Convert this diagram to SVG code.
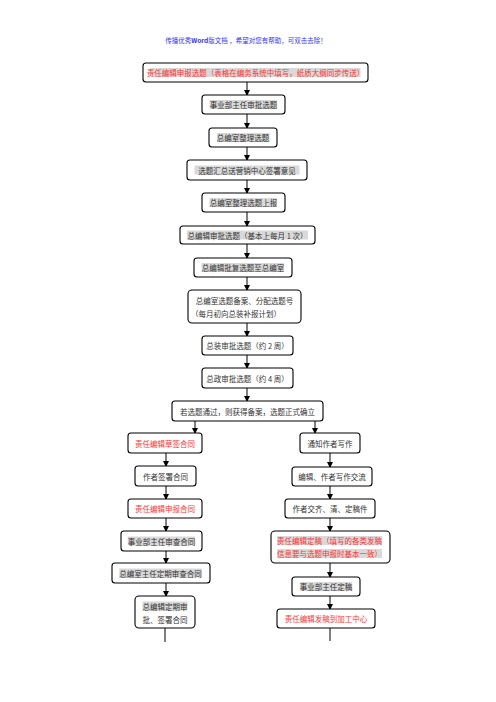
<svg xmlns="http://www.w3.org/2000/svg" width="496" height="702" viewBox="0 0 496 702">
<defs>
<marker id="ah" markerWidth="6" markerHeight="6" refX="5" refY="3" orient="auto" markerUnits="userSpaceOnUse">
<path d="M0,0 L6,3 L0,6 Z" fill="#000"/>
</marker>
<style>
.b{fill:#fff;stroke:#000;stroke-width:1.1}
.t{font-family:"Noto Sans CJK SC","Liberation Serif",serif;font-size:7.5px;fill:#333;text-anchor:middle;dominant-baseline:central}
.r{fill:#ff3333}
.h{fill:#d9d9d9}
.c{stroke:#000;stroke-width:1;fill:none}
.a{marker-end:url(#ah)}
</style>
</defs>
<rect width="496" height="702" fill="#fff"/>
<text x="246" y="40" style="font-family:'Noto Sans CJK SC','Liberation Serif',serif;font-size:6.5px;fill:#3333ff;text-anchor:middle;dominant-baseline:central">传播优秀<tspan font-weight="bold">Word</tspan>版文档 ，希望对您有帮助，可双击去除！</text>
<g id="connectors">
<line class="c a" x1="247" y1="82" x2="247" y2="95"/>
<line class="c a" x1="247" y1="114" x2="247" y2="128"/>
<line class="c a" x1="247" y1="147" x2="247" y2="160"/>
<line class="c a" x1="247" y1="180" x2="247" y2="193"/>
<line class="c a" x1="247" y1="212" x2="247" y2="226"/>
<line class="c a" x1="247" y1="244" x2="247" y2="258"/>
<line class="c a" x1="247" y1="277" x2="247" y2="290"/>
<line class="c a" x1="247" y1="323" x2="247" y2="336"/>
<line class="c a" x1="247" y1="355" x2="247" y2="368"/>
<line class="c a" x1="247" y1="388" x2="247" y2="401"/>
<line class="c a" x1="195" y1="421" x2="195" y2="433"/>
<line class="c a" x1="315" y1="421" x2="315" y2="433"/>
<line class="c a" x1="166" y1="453" x2="166" y2="466"/>
<line class="c a" x1="166" y1="486" x2="166" y2="499"/>
<line class="c a" x1="166" y1="518" x2="166" y2="531"/>
<line class="c a" x1="166" y1="551" x2="166" y2="563"/>
<line class="c a" x1="166" y1="583" x2="166" y2="596"/>
<line class="c" x1="165" y1="628" x2="165" y2="642"/>
<line class="c a" x1="330" y1="453" x2="330" y2="467"/>
<line class="c a" x1="330" y1="486" x2="330" y2="499"/>
<line class="c a" x1="330" y1="518" x2="330" y2="531"/>
<line class="c a" x1="330" y1="563" x2="330" y2="577"/>
<line class="c a" x1="330" y1="596" x2="330" y2="609"/>
<line class="c" x1="330" y1="628" x2="330" y2="641"/>
</g>
<g id="n1"><rect class="b" x="143" y="63" width="225" height="19" rx="3"/><rect class="h" x="150.5" y="68" width="210" height="9"/><text class="t r" x="255.5" y="72.5">责任编辑申报选题（表格在编务系统中填写，纸质大纲同步传送）</text></g>
<g id="n2"><rect class="b" x="202" y="95" width="83" height="19" rx="3"/><rect class="h" x="209.5" y="100" width="67.5" height="9"/><text class="t" x="243.5" y="104.5">事业部主任审批选题</text></g>
<g id="n3"><rect class="b" x="209" y="128" width="68" height="19" rx="3"/><rect class="h" x="217" y="133" width="52.5" height="9"/><text class="t" x="243" y="137.5">总编室整理选题</text></g>
<g id="n4"><rect class="b" x="187" y="160" width="120" height="20" rx="3"/><rect class="h" x="194.5" y="165.5" width="105" height="9"/><text class="t" x="247" y="170">选题汇总送营销中心签署意见</text></g>
<g id="n5"><rect class="b" x="202" y="193" width="83" height="19" rx="3"/><rect class="h" x="209.5" y="198" width="67.5" height="9"/><text class="t" x="243.5" y="202.5">总编室整理选题上报</text></g>
<g id="n6"><rect class="b" x="180" y="226" width="135" height="18" rx="3"/><rect class="h" x="187" y="230.5" width="121" height="9"/><text class="t" x="247.5" y="235">总编辑审批选题（基本上每月 1 次）</text></g>
<g id="n7"><rect class="b" x="194" y="258" width="98" height="19" rx="3"/><rect class="h" x="201.5" y="263" width="82.5" height="9"/><text class="t" x="243" y="267.5">总编辑批复选题至总编室</text></g>
<g id="n8"><rect class="b" x="188" y="290" width="113" height="33" rx="4"/><text class="t" x="244.5" y="300.5">总编室选题备案、分配选题号</text><text class="t" x="236" y="313.5">（每月初向总装补报计划）</text></g>
<g id="n9"><rect class="b" x="202" y="336" width="91" height="19" rx="3"/><text class="t" x="247.5" y="345.5">总装审批选题（约 2 周）</text></g>
<g id="n10"><rect class="b" x="202" y="368" width="91" height="20" rx="3"/><text class="t" x="247.5" y="378">总政审批选题（约 4 周）</text></g>
<g id="n11"><rect class="b" x="172" y="401" width="151" height="20" rx="3"/><text class="t" x="247.5" y="411">若选题通过，则获得备案，选题正式确立</text></g>
<g id="n12"><rect class="b" x="128" y="433" width="74" height="20" rx="3"/><text class="t r" x="165" y="443">责任编辑草签合同</text></g>
<g id="n13"><rect class="b" x="135" y="466" width="61" height="20" rx="3"/><text class="t" x="165.5" y="476">作者签署合同</text></g>
<g id="n14"><rect class="b" x="128" y="499" width="74" height="19" rx="3"/><text class="t r" x="165" y="508.5">责任编辑申报合同</text></g>
<g id="n15"><rect class="b" x="121" y="531" width="81" height="20" rx="3"/><rect class="h" x="127.75" y="536.5" width="67.5" height="9"/><text class="t" x="161.5" y="541">事业部主任审查合同</text></g>
<g id="n16"><rect class="b" x="112" y="563" width="98" height="20" rx="3"/><rect class="h" x="119.25" y="568.5" width="82.5" height="9"/><text class="t" x="160.5" y="573">总编室主任定期审查合同</text></g>
<g id="n17"><rect class="b" x="135" y="596" width="60" height="32" rx="4"/><rect class="h" x="142.5" y="601.5" width="45" height="9"/><text class="t" x="165" y="606">总编辑定期审</text><text class="t" x="165" y="619">批、签署合同</text></g>
<g id="n18"><rect class="b" x="300" y="433" width="60" height="20" rx="3"/><text class="t" x="330" y="443">通知作者写作</text></g>
<g id="n19"><rect class="b" x="292" y="467" width="80" height="19" rx="3"/><text class="t" x="332" y="476.5">编辑、作者写作交流</text></g>
<g id="n20"><rect class="b" x="285" y="499" width="90" height="19" rx="3"/><text class="t" x="330" y="508.5">作者交齐、清、定稿件</text></g>
<g id="n21"><rect class="b" x="271" y="531" width="119" height="32" rx="4"/><rect class="h" x="277" y="536" width="105" height="9"/><rect class="h" x="277" y="549" width="105" height="9"/><text class="t r" x="329.5" y="540.5">责任编辑定稿（填写的各类发稿</text><text class="t r" x="329.5" y="553.5">信息要与选题申报时基本一致）</text></g>
<g id="n22"><rect class="b" x="292" y="577" width="68" height="19" rx="3"/><rect class="h" x="299.75" y="582" width="52.5" height="9"/><text class="t" x="326" y="586.5">事业部主任定稿</text></g>
<g id="n23"><rect class="b" x="277" y="609" width="98" height="19" rx="3"/><text class="t r" x="326" y="618.5">责任编辑发稿到加工中心</text></g>
</svg>
